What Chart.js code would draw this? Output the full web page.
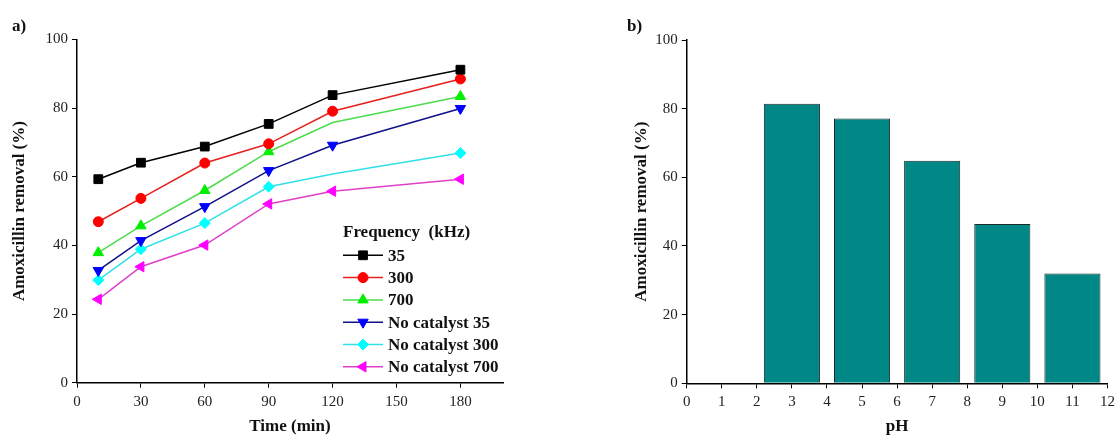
<!DOCTYPE html>
<html>
<head>
<meta charset="utf-8">
<script src="https://cdn.jsdelivr.net/npm/chart.js@4.4.1/dist/chart.umd.min.js"></script>
<style>
  html, body { margin: 0; padding: 0; background: #fff; }
  #wrap { position: relative; width: 1120px; height: 437px; }
  .box { position: absolute; top: 0; width: 560px; height: 437px; }
</style>
</head>
<body>
<div id="wrap">
  <div class="box" style="left:0"><canvas id="chartA" width="560" height="437"></canvas></div>
  <div class="box" style="left:560px"><canvas id="chartB" width="560" height="437"></canvas></div>
</div>
<script>
// ---- data (a) removal vs time ----
var times = [10, 30, 60, 90, 120, 180];
var f35 = [59.3, 64.1, 68.8, 75.4, 83.8, 91.2];
var f300 = [46.9, 53.7, 64.0, 69.6, 79.1, 88.5];
var f700 = [37.9, 45.7, 56.0, 67.3, 75.8, 83.4];
var nc35 = [32.7, 41.4, 51.3, 61.8, 69.2, 79.9];
var nc300 = [29.9, 38.9, 46.5, 57.1, 60.8, 66.9];
var nc700 = [24.3, 33.8, 40.1, 52.1, 55.8, 59.3];
var seriesLabels = ["35", "300", "700", "No catalyst 35", "No catalyst 300", "No catalyst 700"];
var legendTitle = "Frequency  (kHz)";

// ---- data (b) removal vs pH ----
var phValues = [3, 5, 7, 9, 11];
var phRemoval = [81.4, 77.1, 64.8, 46.4, 32.0];

var SERIF = '"Liberation Serif", "Times New Roman", serif';
var drawPoint = Chart.helpers && Chart.helpers.drawPoint;

function pts(ys) {
  return times.map(function (t, i) { return { x: t, y: ys[i] }; });
}

// legend drawn inside the plot area
var insideLegend = {
  id: 'insideLegend',
  afterDraw: function (chart, args, opts) {
    if (!opts.show) return;
    var ctx = chart.ctx, a = chart.chartArea;
    var x0 = a.left + opts.dx, y0 = a.top + opts.dy;
    ctx.save();
    ctx.font = 'bold 17px ' + SERIF;
    ctx.textBaseline = 'middle';
    ctx.fillStyle = '#111';
    ctx.fillText(opts.title, x0, y0);
    chart.data.datasets.forEach(function (ds, i) {
      var y = y0 + opts.rowGap * (i + 1);
      ctx.strokeStyle = ds.borderColor;
      ctx.lineWidth = ds.borderWidth;
      ctx.beginPath();
      ctx.moveTo(x0, y);
      ctx.lineTo(x0 + 40, y);
      ctx.stroke();
      if (drawPoint) {
        ctx.fillStyle = ds.pointBackgroundColor;
        ctx.strokeStyle = ds.pointBorderColor;
        ctx.lineWidth = 1;
        drawPoint(ctx, { pointStyle: ds.pointStyle, rotation: ds.pointRotation || 0, radius: ds.legendRadius, borderWidth: 1 }, x0 + 20, y);
      }
      ctx.fillStyle = '#111';
      ctx.fillText(ds.label, x0 + 45, y + 1);
    });
    ctx.restore();
  }
};

var panelLabel = {
  id: 'panelLabel',
  afterDraw: function (chart, args, opts) {
    var ctx = chart.ctx;
    ctx.save();
    ctx.font = 'bold 17px ' + SERIF;
    ctx.fillStyle = '#111';
    ctx.textBaseline = 'middle';
    ctx.fillText(opts.text, opts.x, opts.y);
    ctx.restore();
  }
};

function axis(min, max, step, title, isY, fitSize, titlePad) {
  return {
    type: 'linear',
    min: min,
    max: max,
    offset: false,
    grid: { display: true, drawOnChartArea: false, drawTicks: true, tickLength: 5, tickColor: '#000', tickWidth: 1, offset: false },
    border: { display: true, color: '#000', width: 1.5 },
    ticks: { stepSize: step, includeBounds: false, color: '#222', padding: isY ? 4 : 5, maxRotation: 0, autoSkip: false,
      font: { family: SERIF, size: 15 } },
    title: { display: true, text: title, color: '#111', font: { family: SERIF, size: 17, weight: 'bold' }, padding: titlePad },
    afterFit: function (s) { if (isY) s.width = fitSize; else s.height = fitSize; }
  };
}

function lineSet(label, ys, line, mark, style, rot, r, legendR) {
  return {
    label: label,
    data: pts(ys),
    borderColor: line,
    borderWidth: 1.5,
    pointBackgroundColor: mark,
    pointBorderColor: mark,
    pointBorderWidth: 1,
    pointStyle: style,
    pointRotation: rot,
    pointRadius: r,
    legendRadius: legendR,
    tension: 0,
    fill: false
  };
}

//chart a
new Chart(document.getElementById('chartA').getContext('2d'), {
  type: 'line',
  data: {
    datasets: [
      lineSet(seriesLabels[0], f35, '#000000', '#000000', 'rect', 0, 6.2, 6.2),
      lineSet(seriesLabels[1], f300, '#e8201e', '#ff0000', 'circle', 0, 5, 5),
      lineSet(seriesLabels[2], f700, '#4cdc4c', '#00ee00', 'triangle', 0, [6, 6, 6, 6, 0, 6], 6),
      lineSet(seriesLabels[3], nc35, '#10108a', '#0000ff', 'triangle', 180, 6, 6),
      lineSet(seriesLabels[4], nc300, '#30e0e8', '#00ffff', 'rectRot', 0, [5.5, 5.5, 5.5, 5.5, 0, 5.5], 5.5),
      lineSet(seriesLabels[5], nc700, '#e040c8', '#ff00ff', 'triangle', 270, 6, 6)
    ]
  },
  options: {
    responsive: false,
    animation: false,
    layout: { padding: { left: 0, right: 57, top: 39.5, bottom: 0 } },
    scales: {
      x: axis(0, 200, 30, 'Time (min)', false, 54.3, { top: 0, bottom: 0 }),
      y: axis(0, 100, 20, 'Amoxicillin removal (%)', true, 77, { top: 9, bottom: 0 })
    },
    plugins: {
      legend: { display: false },
      tooltip: { enabled: false },
      insideLegend: { show: true, title: legendTitle, dx: 266, dy: 193.5, rowGap: 22.3 },
      panelLabel: { text: 'a)', x: 12, y: 27 }
    }
  },
  plugins: [insideLegend, panelLabel]
});

//chart b
new Chart(document.getElementById('chartB').getContext('2d'), {
  type: 'bar',
  data: {
    datasets: [{
      label: 'Removal',
      data: phValues.map(function (p, i) { return { x: p, y: phRemoval[i] }; }),
      backgroundColor: '#008886',
      borderColor: '#1c2b2b',
      borderWidth: 1,
      categoryPercentage: 1,
      barPercentage: 1.6
    }]
  },
  options: {
    responsive: false,
    animation: false,
    layout: { padding: { left: 62, right: 7.3, top: 40, bottom: 0 } },
    scales: {
      x: axis(0, 12, 1, 'pH', false, 53.7, { top: 0, bottom: 0 }),
      y: axis(0, 100, 20, 'Amoxicillin removal (%)', true, 64.7, { top: 9, bottom: 0 })
    },
    plugins: {
      legend: { display: false },
      tooltip: { enabled: false },
      insideLegend: { show: false },
      panelLabel: { text: 'b)', x: 67, y: 27 }
    }
  },
  plugins: [insideLegend, panelLabel]
});
</script>
</body>
</html>
